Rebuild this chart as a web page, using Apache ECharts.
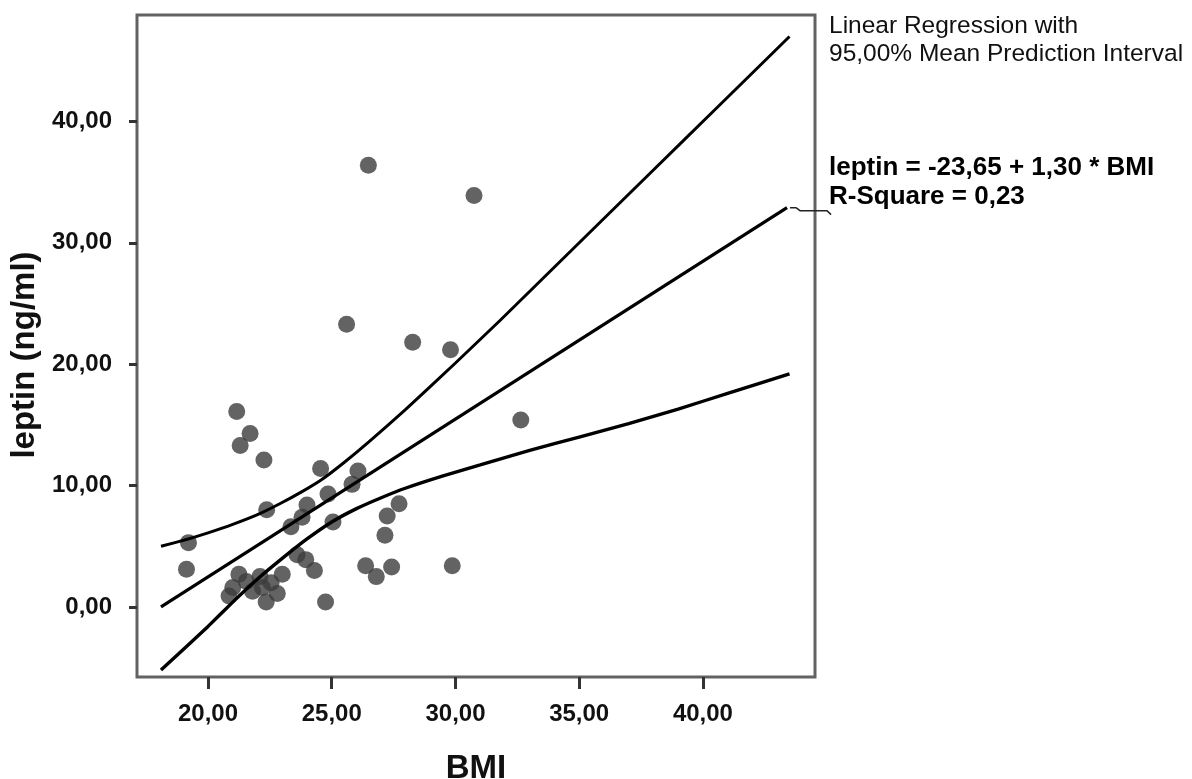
<!DOCTYPE html>
<html>
<head>
<meta charset="utf-8">
<script src="https://cdn.jsdelivr.net/npm/echarts@6/dist/echarts.min.js"></script>
<style>
html,body{margin:0;padding:0;background:#fff;}
#c{width:1192px;height:779px;}
</style>
</head>
<body>
<div id="c"></div>
<script>
const bmi = [26.48,30.75,25.6,28.27,29.8,32.64,21.16,21.7,21.3,22.26,24.55,26.06,25.82,24.85,22.37,24.0,23.8,23.35,25.05,27.72,27.24,27.15,19.21,19.13,23.6,23.95,24.3,26.37,26.8,27.42,29.87,24.75,20.85,21.0,21.25,21.55,21.8,22.1,22.2,22.35,22.55,22.8,23.0];
const leptin = [36.4,33.9,23.3,21.8,21.2,15.4,16.1,14.3,13.3,12.1,11.4,11.2,10.1,9.3,8.0,8.4,7.4,6.6,7.0,8.5,7.5,5.9,5.3,3.1,4.3,3.9,3.0,3.4,2.5,3.3,3.4,0.4,0.9,1.6,2.7,2.1,1.3,2.5,1.6,0.4,2.0,1.1,2.7];

// Fit line end points
const fitX = [18.1, 43.4];
const fitY = [0.0, 32.9];

// 95% mean prediction interval curves
const upperX = [18.1,19.2,20.0,21.0,22.0,22.9,23.8,24.6,25.5,26.5,28.0,30.0,31.8,33.9,36.0,38.0,40.4,43.5];
const upperY = [5.0,5.6,6.1,6.8,7.6,8.5,9.5,10.5,11.9,13.6,16.3,20.1,23.6,27.8,32.0,36.0,40.8,47.0];
const lowerX = [18.1,19.0,20.0,21.0,22.0,23.0,24.0,25.0,26.0,27.0,28.0,29.5,31.0,33.0,35.0,37.0,39.0,41.0,43.5];
const lowerY = [-5.2,-3.5,-1.6,0.4,2.3,4.0,5.6,7.0,8.1,9.0,9.8,10.8,11.7,12.9,14.0,15.1,16.3,17.6,19.2];

const xTicks = [20,25,30,35,40];
const yTicks = [0,10,20,30,40];

const zip = (a,b) => a.map((v,i)=>[v,b[i]]);
const fmt = v => v.toFixed(2).replace('.', ',');

const chart = echarts.init(document.getElementById('c'));
const FONT = 'Liberation Sans, Arial, sans-serif';
const labelFont = {fontFamily:FONT, fontWeight:'bold', fontSize:24, color:'#111'};

function texts(extra){
  const g = [
    {type:'text',left:829,top:14,style:{text:'Linear Regression with',font:'24.5px "Liberation Sans", Arial, sans-serif',fill:'#111'}},
    {type:'text',left:829,top:42,style:{text:'95,00% Mean Prediction Interval',font:'24.5px "Liberation Sans", Arial, sans-serif',fill:'#111'}},
    {type:'text',left:829,top:155,style:{text:'leptin = -23,65 + 1,30 * BMI',font:'bold 26px "Liberation Sans", Arial, sans-serif',fill:'#000'}},
    {type:'text',left:829,top:184,style:{text:'R-Square = 0,23',font:'bold 26px "Liberation Sans", Arial, sans-serif',fill:'#000'}}
  ];
  return extra ? g.concat(extra) : g;
}

chart.setOption({
  animation:false,
  backgroundColor:'#fff',
  grid:{left:137,right:377,top:15,bottom:102,outerBoundsMode:'none',containLabel:false,show:true,borderColor:'#626262',borderWidth:3,backgroundColor:'transparent'},
  xAxis:{
    type:'value',min:17.13,max:44.53,
    name:'BMI',nameLocation:'middle',nameGap:75,
    nameTextStyle:{fontFamily:FONT,fontWeight:'bold',fontSize:33,color:'#111'},
    axisLine:{show:false,onZero:false},
    splitLine:{show:false},
    axisTick:{show:true,customValues:xTicks,length:12,lineStyle:{color:'#333',width:3}},
    axisLabel:Object.assign({customValues:xTicks,formatter:fmt,margin:25},labelFont)
  },
  yAxis:{
    type:'value',min:-5.77,max:48.77,
    name:'leptin (ng/ml)',nameLocation:'middle',nameGap:82,nameRotate:90,
    nameTextStyle:{fontFamily:FONT,fontWeight:'bold',fontSize:33,color:'#111',padding:[0,18,0,0]},
    axisLine:{show:false,onZero:false},
    splitLine:{show:false},
    axisTick:{show:true,customValues:yTicks,length:8,lineStyle:{color:'#333',width:3}},
    axisLabel:Object.assign({customValues:yTicks,formatter:fmt,margin:25},labelFont)
  },
  series:[
    {type:'scatter',data:zip(bmi,leptin),symbolSize:17,itemStyle:{color:'#3c3c3c'},z:2},
    {type:'line',data:zip(fitX,fitY),showSymbol:false,symbol:'none',lineStyle:{color:'#000',width:3.2},z:3},
    {type:'line',data:zip(upperX,upperY),showSymbol:false,symbol:'none',smooth:0.15,lineStyle:{color:'#000',width:3},z:3},
    {type:'line',data:zip(lowerX,lowerY),showSymbol:false,symbol:'none',smooth:0.15,lineStyle:{color:'#000',width:3.4},z:3}
  ],
  graphic:texts()
});

// leader line from end of fit line to the equation label
const endPx = chart.convertToPixel({seriesIndex:1},[fitX[1],fitY[1]]);
chart.setOption({graphic:texts([
  {type:'polyline',shape:{points:[[endPx[0]+3,endPx[1]],[endPx[0]+9,endPx[1]],[endPx[0]+13,endPx[1]+3],[endPx[0]+40,endPx[1]+3],[endPx[0]+44,endPx[1]+7]]},style:{stroke:'#222',lineWidth:1.5,fill:null},z:10}
])}, {replaceMerge:['graphic']});
</script>
</body>
</html>
